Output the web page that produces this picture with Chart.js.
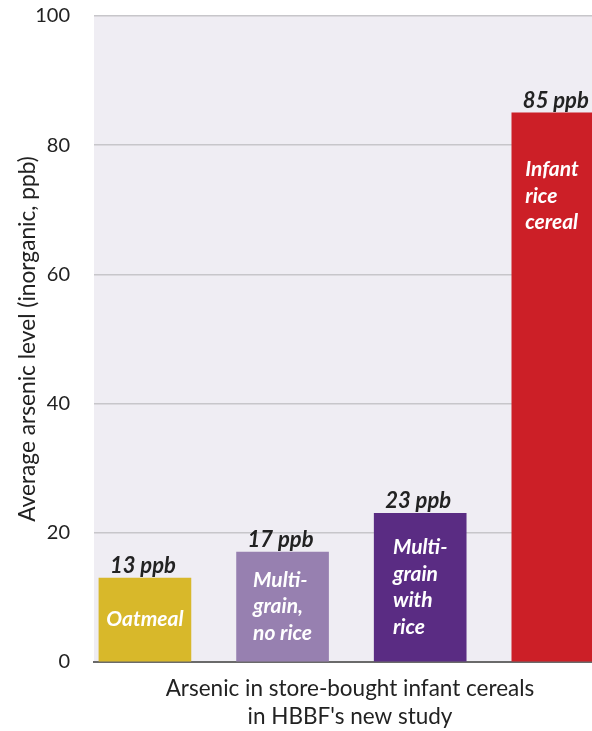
<!DOCTYPE html>
<html>
<head>
<meta charset="utf-8">
<script src="https://cdn.jsdelivr.net/npm/chart.js@4.4.0/dist/chart.umd.min.js"></script>
<style>
  html, body { margin: 0; padding: 0; background: #ffffff; overflow: hidden; }
  #wrap { width: 606px; height: 731px; }
</style>
</head>
<body>
<div id="wrap"><canvas id="c" width="606" height="731"></canvas></div>
<script>
// ---- data ----
const categories = ['Oatmeal', 'Multi-grain, no rice', 'Multi-grain with rice', 'Infant rice cereal'];
const insideLines = [['Oatmeal'], ['Multi-', 'grain,', 'no rice'], ['Multi-', 'grain', 'with', 'rice'], ['Infant', 'rice', 'cereal']];
const values = [13, 17, 23, 85];
const valueUnit = ' ppb';
const yTicks = [0, 20, 40, 60, 80, 100];
const xTitle = ['Arsenic in store-bought infant cereals', "in HBBF's new study"];
const yTitle = 'Average arsenic level (inorganic, ppb)';

// ---- styles ----
const barColors = ['#d8b82a', '#9780b0', '#5a2c83', '#cc1f27'];
const FONT = 'Lato';
const TEXT = '#222222';

const plotBg = {
  id: 'plotBg',
  beforeDraw(chart) {
    const {ctx, chartArea: a} = chart;
    ctx.save();
    ctx.fillStyle = '#efedf3';
    ctx.fillRect(a.left, a.top, a.right - a.left, a.bottom - a.top);
    ctx.restore();
  }
};

const barText = {
  id: 'barText',
  afterDatasetsDraw(chart) {
    const ctx = chart.ctx;
    const meta = chart.getDatasetMeta(0);
    const visRight = Math.min(chart.chartArea.right, window.innerWidth);
    meta.data.forEach((bar, i) => {
      const p = bar.getProps(['x', 'y', 'base', 'width'], true);
      const left = p.x - p.width / 2;
      const cx = Math.min(p.x, (left + visRight) / 2);
      ctx.save();
      // value label above bar
      ctx.font = 'italic bold 22px ' + FONT;
      ctx.fillStyle = TEXT;
      ctx.textAlign = 'center';
      ctx.textBaseline = 'alphabetic';
      ctx.fillText(values[i] + valueUnit, p.x - 2, p.y - 5);
      // category label inside bar
      const lines = insideLines[i];
      ctx.font = 'italic bold 21px ' + FONT;
      ctx.fillStyle = '#ffffff';
      ctx.textBaseline = 'middle';
      const lh = 26.5;
      const maxW = Math.max(...lines.map(l => ctx.measureText(l).width));
      const h = Math.min(p.base - p.y, 166);
      const midY = p.y + h / 2;
      const startY = midY - (lines.length - 1) * lh / 2;
      ctx.textAlign = 'left';
      lines.forEach((l, k) => {
        ctx.fillText(l, cx - maxW / 2, startY + k * lh);
      });
      ctx.restore();
    });
  }
};

function build() {
  Chart.defaults.font.family = FONT;
  Chart.defaults.color = TEXT;
  new Chart(document.getElementById('c'), {
    type: 'bar',
    data: {
      labels: categories,
      datasets: [{
        data: values.map((v, i) => ({x: i, y: v})),
        backgroundColor: barColors,
        borderWidth: 0,
        barThickness: 92
      }]
    },
    options: {
      responsive: false,
      animation: false,
      layout: { padding: { top: 16, left: 0, right: 0, bottom: 0 } },
      plugins: { legend: { display: false }, tooltip: { enabled: false } },
      scales: {
        x: {
          type: 'linear',
          offset: false,
          min: -0.37,
          max: 3.35,
          z: 1,
          grid: { display: false, drawTicks: false, offset: false },
          border: { display: true, color: '#6a6a6a', width: 2 },
          ticks: { display: false },
          title: {
            display: true,
            text: xTitle,
            font: { size: 22.5, lineHeight: 1.25 },
            color: TEXT,
            padding: { top: 0, bottom: 0 }
          },
          afterFit(s) { s.height = 69; s.paddingLeft = 0; s.paddingRight = 0; }
        },
        y: {
          min: 0,
          max: 100,
          afterBuildTicks(s) { s.ticks = yTicks.map(v => ({value: v})); },
          grid: {
            drawTicks: false,
            color: ctx => ctx.tick && ctx.tick.value === 0 ? 'rgba(0,0,0,0)' : '#c7c6ca',
            lineWidth: 1.5
          },
          border: { display: false },
          ticks: { padding: 24, font: { size: 20 }, color: TEXT },
          title: {
            display: true,
            text: yTitle,
            font: { size: 22.7, lineHeight: 1.25 },
            color: TEXT,
            padding: { top: 13, bottom: 0 }
          },
          afterFit(s) { s.width = 94; s.paddingTop = 0; s.paddingBottom = 0; }
        }
      }
    },
    plugins: [plotBg, barText]
  });
}

Promise.all([
  document.fonts.load('20px ' + FONT),
  document.fonts.load('italic bold 20px ' + FONT)
]).then(build, build);
</script>
</body>
</html>
